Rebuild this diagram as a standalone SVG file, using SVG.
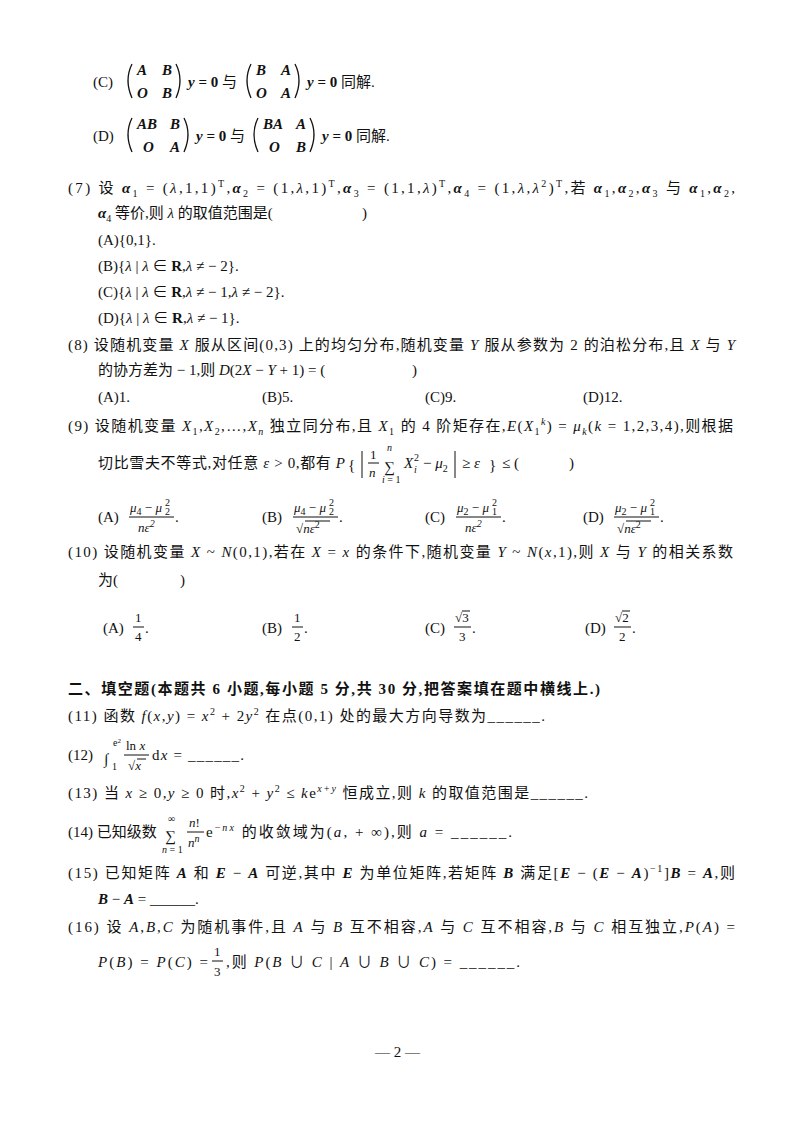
<svg xmlns="http://www.w3.org/2000/svg" width="800" height="1136" viewBox="0 0 800 1136">
<style>
text{font-family:"Liberation Serif","Noto Sans CJK SC",serif;font-size:15px;fill:#111}
.b{font-weight:bold}.i{font-style:italic}.bi{font-weight:bold;font-style:italic}
.s{font-size:10px}.m{font-size:13px}
.br{fill:none;stroke:#111;stroke-width:1.3}
.fl{stroke:#111;stroke-width:1}
</style>
<rect width="800" height="1136" fill="#fff"/>
<!-- (C) -->
<text x="93" y="87">(C)</text>
<path class="br" d="M132 64 Q124 80 132 98"/><text x="137" y="75" class="bi">A</text><text x="162" y="75" class="bi">B</text>
<text x="137" y="98" class="bi">O</text><text x="162" y="98" class="bi">B</text><path class="br" d="M176 64 Q184 80 176 98"/>
<text x="188" y="87"><tspan class="bi">y</tspan><tspan class="b"> = 0</tspan> 与</text>
<path class="br" d="M251 64 Q243 80 251 98"/><text x="256" y="75" class="bi">B</text><text x="281" y="75" class="bi">A</text>
<text x="256" y="98" class="bi">O</text><text x="281" y="98" class="bi">A</text><path class="br" d="M295 64 Q303 80 295 98"/>
<text x="307" y="87"><tspan class="bi">y</tspan><tspan class="b"> = 0</tspan> 同解.</text>
<!-- (D) -->
<text x="93" y="141">(D)</text>
<path class="br" d="M132 118 Q124 134 132 152"/><text x="137" y="129" class="bi">AB</text><text x="170" y="129" class="bi">B</text>
<text x="143" y="152" class="bi">O</text><text x="170" y="152" class="bi">A</text><path class="br" d="M184 118 Q192 134 184 152"/>
<text x="196" y="141"><tspan class="bi">y</tspan><tspan class="b"> = 0</tspan> 与</text>
<path class="br" d="M258 118 Q250 134 258 152"/><text x="263" y="129" class="bi">BA</text><text x="296" y="129" class="bi">A</text>
<text x="269" y="152" class="bi">O</text><text x="296" y="152" class="bi">B</text><path class="br" d="M310 118 Q318 134 310 152"/>
<text x="322" y="141"><tspan class="bi">y</tspan><tspan class="b"> = 0</tspan> 同解.</text>
<!-- (7) -->
<text x="68" y="193" textLength="667" lengthAdjust="spacing">(7) 设 <tspan class="bi">α</tspan><tspan class="s" dy="4">1</tspan><tspan dy="-4"> = (</tspan><tspan class="i">λ</tspan>,1,1)<tspan class="s" dy="-6">T</tspan><tspan dy="6">,</tspan><tspan class="bi">α</tspan><tspan class="s" dy="4">2</tspan><tspan dy="-4"> = (1,</tspan><tspan class="i">λ</tspan>,1)<tspan class="s" dy="-6">T</tspan><tspan dy="6">,</tspan><tspan class="bi">α</tspan><tspan class="s" dy="4">3</tspan><tspan dy="-4"> = (1,1,</tspan><tspan class="i">λ</tspan>)<tspan class="s" dy="-6">T</tspan><tspan dy="6">,</tspan><tspan class="bi">α</tspan><tspan class="s" dy="4">4</tspan><tspan dy="-4"> = (1,</tspan><tspan class="i">λ</tspan>,<tspan class="i">λ</tspan><tspan class="s" dy="-6">2</tspan><tspan dy="6">)</tspan><tspan class="s" dy="-6">T</tspan><tspan dy="6">,若 </tspan><tspan class="bi">α</tspan><tspan class="s" dy="4">1</tspan><tspan dy="-4">,</tspan><tspan class="bi">α</tspan><tspan class="s" dy="4">2</tspan><tspan dy="-4">,</tspan><tspan class="bi">α</tspan><tspan class="s" dy="4">3</tspan><tspan dy="-4"> 与 </tspan><tspan class="bi">α</tspan><tspan class="s" dy="4">1</tspan><tspan dy="-4">,</tspan><tspan class="bi">α</tspan><tspan class="s" dy="4">2</tspan><tspan dy="-4">,</tspan></text>
<text x="98" y="218"><tspan class="bi">α</tspan><tspan class="s" dy="4">4</tspan><tspan dy="-4"> 等价,则 </tspan><tspan class="i">λ</tspan> 的取值范围是(</text><text x="362" y="218">)</text>
<text x="98" y="245">(A){0,1}.</text>
<text x="98" y="271">(B){<tspan class="i">λ</tspan> | <tspan class="i">λ</tspan> ∈ <tspan class="b">R</tspan>,<tspan class="i">λ</tspan> ≠ − 2}.</text>
<text x="98" y="297">(C){<tspan class="i">λ</tspan> | <tspan class="i">λ</tspan> ∈ <tspan class="b">R</tspan>,<tspan class="i">λ</tspan> ≠ − 1,<tspan class="i">λ</tspan> ≠ − 2}.</text>
<text x="98" y="323">(D){<tspan class="i">λ</tspan> | <tspan class="i">λ</tspan> ∈ <tspan class="b">R</tspan>,<tspan class="i">λ</tspan> ≠ − 1}.</text>
<!-- (8) -->
<text x="68" y="350" textLength="667" lengthAdjust="spacing">(8) 设随机变量 <tspan class="i">X</tspan> 服从区间(0,3) 上的均匀分布,随机变量 <tspan class="i">Y</tspan> 服从参数为 2 的泊松分布,且 <tspan class="i">X</tspan> 与 <tspan class="i">Y</tspan></text>
<text x="98" y="375">的协方差为 − 1,则 <tspan class="i">D</tspan>(2<tspan class="i">X</tspan> − <tspan class="i">Y</tspan> + 1) = (</text><text x="412" y="375">)</text>
<text x="98" y="402">(A)1.</text><text x="262" y="402">(B)5.</text><text x="425" y="402">(C)9.</text><text x="583" y="402">(D)12.</text>
<!-- (9) -->
<text x="68" y="431" textLength="665" lengthAdjust="spacing">(9) 设随机变量 <tspan class="i">X</tspan><tspan class="s" dy="4">1</tspan><tspan dy="-4">,</tspan><tspan class="i">X</tspan><tspan class="s" dy="4">2</tspan><tspan dy="-4">,…,</tspan><tspan class="i">X</tspan><tspan class="s i" dy="4">n</tspan><tspan dy="-4"> 独立同分布,且 </tspan><tspan class="i">X</tspan><tspan class="s" dy="4">1</tspan><tspan dy="-4"> 的 4 阶矩存在,</tspan><tspan class="i">E</tspan>(<tspan class="i">X</tspan><tspan class="s" dy="4">1</tspan><tspan class="s i" dy="-10">k</tspan><tspan dy="6">) = </tspan><tspan class="i">μ</tspan><tspan class="s i" dy="4">k</tspan><tspan dy="-4">(</tspan><tspan class="i">k</tspan> = 1,2,3,4),则根据</text>
<text x="98" y="468" textLength="247" lengthAdjust="spacing">切比雪夫不等式,对任意 <tspan class="i">ε</tspan> &gt; 0,都有 <tspan class="i">P</tspan></text>
<text x="348" y="470" font-size="22">{</text>
<line class="fl" x1="362" y1="451" x2="362" y2="478"/>
<text x="370" y="459" class="m">1</text><line class="fl" x1="368" y1="463" x2="379" y2="463"/><text x="369" y="477" class="m i">n</text>
<text x="384" y="472" font-size="20">∑</text><text x="387" y="451" class="s i">n</text><text x="382" y="483" class="s"><tspan class="i">i</tspan> = 1</text>
<text x="404" y="468" class="i">X</text><text x="414" y="461" class="s">2</text><text x="414" y="473" class="s i">i</text>
<text x="423" y="468">− <tspan class="i">μ</tspan><tspan class="s" dy="4">2</tspan></text>
<line class="fl" x1="455" y1="451" x2="455" y2="478"/>
<text x="462" y="468">≥ <tspan class="i">ε</tspan></text>
<text x="489" y="470" font-size="22">}</text>
<text x="502" y="468">≤ (</text><text x="569" y="468">)</text>
<!-- options 9 -->
<g id="opt9">
<text x="98" y="522">(A)</text>
<text x="130" y="512" class="m"><tspan class="i">μ</tspan><tspan class="s" dy="3">4</tspan><tspan dy="-3"> − </tspan><tspan class="i">μ</tspan></text><text x="165" y="506" class="s">2</text><text x="165" y="515" class="s">2</text>
<line class="fl" x1="129" y1="517" x2="174" y2="517"/><text x="138" y="532" class="m i">nε<tspan class="s" dy="-5">2</tspan></text><text x="175" y="522">.</text>
<text x="262" y="522">(B)</text>
<text x="294" y="512" class="m"><tspan class="i">μ</tspan><tspan class="s" dy="3">4</tspan><tspan dy="-3"> − </tspan><tspan class="i">μ</tspan></text><text x="329" y="506" class="s">2</text><text x="329" y="515" class="s">2</text>
<line class="fl" x1="293" y1="517" x2="338" y2="517"/><text x="296" y="533" class="m">√<tspan class="i">nε</tspan><tspan class="s" dy="-5">2</tspan></text><line class="fl" x1="305" y1="521" x2="330" y2="521"/><text x="339" y="522">.</text>
<text x="425" y="522">(C)</text>
<text x="457" y="512" class="m"><tspan class="i">μ</tspan><tspan class="s" dy="3">2</tspan><tspan dy="-3"> − </tspan><tspan class="i">μ</tspan></text><text x="492" y="506" class="s">2</text><text x="492" y="515" class="s">1</text>
<line class="fl" x1="456" y1="517" x2="501" y2="517"/><text x="465" y="532" class="m i">nε<tspan class="s" dy="-5">2</tspan></text><text x="502" y="522">.</text>
<text x="583" y="522">(D)</text>
<text x="615" y="512" class="m"><tspan class="i">μ</tspan><tspan class="s" dy="3">2</tspan><tspan dy="-3"> − </tspan><tspan class="i">μ</tspan></text><text x="650" y="506" class="s">2</text><text x="650" y="515" class="s">1</text>
<line class="fl" x1="614" y1="517" x2="659" y2="517"/><text x="617" y="533" class="m">√<tspan class="i">nε</tspan><tspan class="s" dy="-5">2</tspan></text><line class="fl" x1="626" y1="521" x2="651" y2="521"/><text x="660" y="522">.</text>
</g>
<!-- (10) -->
<text x="68" y="557" textLength="665" lengthAdjust="spacing">(10) 设随机变量 <tspan class="i">X</tspan> ~ <tspan class="i">N</tspan>(0,1),若在 <tspan class="i">X</tspan> = <tspan class="i">x</tspan> 的条件下,随机变量 <tspan class="i">Y</tspan> ~ <tspan class="i">N</tspan>(<tspan class="i">x</tspan>,1),则 <tspan class="i">X</tspan> 与 <tspan class="i">Y</tspan> 的相关系数</text>
<text x="98" y="585">为(</text><text x="180" y="585">)</text>
<text x="103" y="633">(A)</text><text x="135" y="622" class="m">1</text><line class="fl" x1="133" y1="627" x2="144" y2="627"/><text x="135" y="641" class="m">4</text><text x="145" y="633">.</text>
<text x="262" y="633">(B)</text><text x="294" y="622" class="m">1</text><line class="fl" x1="292" y1="627" x2="303" y2="627"/><text x="294" y="641" class="m">2</text><text x="304" y="633">.</text>
<text x="425" y="633">(C)</text><text x="455" y="622" class="m">√3</text><line class="fl" x1="462" y1="611" x2="470" y2="611"/><line class="fl" x1="454" y1="627" x2="471" y2="627"/><text x="459" y="641" class="m">3</text><text x="472" y="633">.</text>
<text x="585" y="633">(D)</text><text x="615" y="622" class="m">√2</text><line class="fl" x1="622" y1="611" x2="630" y2="611"/><line class="fl" x1="614" y1="627" x2="631" y2="627"/><text x="619" y="641" class="m">2</text><text x="632" y="633">.</text>
<!-- fill-in -->
<text x="68" y="694" class="b" textLength="532" lengthAdjust="spacing">二、填空题(本题共 6 小题,每小题 5 分,共 30 分,把答案填在题中横线上.)</text>
<text x="68" y="721" textLength="477" lengthAdjust="spacing">(11) 函数 <tspan class="i">f</tspan>(<tspan class="i">x</tspan>,<tspan class="i">y</tspan>) = <tspan class="i">x</tspan><tspan class="s" dy="-6">2</tspan><tspan dy="6"> + 2</tspan><tspan class="i">y</tspan><tspan class="s" dy="-6">2</tspan><tspan dy="6"> 在点(0,1) 处的最大方向导数为______.</tspan></text>
<text x="68" y="760">(12)</text><text x="104" y="764" font-size="22">∫</text><text x="113" y="746" class="s">e<tspan dy="-3" font-size="7">2</tspan></text><text x="112" y="770" class="s">1</text>
<text x="126" y="750" class="m">ln <tspan class="i">x</tspan></text><line class="fl" x1="124" y1="755" x2="149" y2="755"/><text x="128" y="770" class="m">√<tspan class="i">x</tspan></text><line class="fl" x1="137" y1="759" x2="146" y2="759"/>
<text x="152" y="760" textLength="92" lengthAdjust="spacing">d<tspan class="i">x</tspan> = ______.</text>
<text x="68" y="798" textLength="520" lengthAdjust="spacing">(13) 当 <tspan class="i">x</tspan> ≥ 0,<tspan class="i">y</tspan> ≥ 0 时,<tspan class="i">x</tspan><tspan class="s" dy="-6">2</tspan><tspan dy="6"> + </tspan><tspan class="i">y</tspan><tspan class="s" dy="-6">2</tspan><tspan dy="6"> ≤ </tspan><tspan class="i">k</tspan>e<tspan class="s i" dy="-6">x+y</tspan><tspan dy="6"> 恒成立,则 </tspan><tspan class="i">k</tspan> 的取值范围是______.</text>
<text x="68" y="837">(14) 已知级数</text><text x="165" y="841" font-size="20">∑</text><text x="168" y="822" class="s">∞</text><text x="162" y="853" class="s"><tspan class="i">n</tspan> = 1</text>
<text x="189" y="827" class="m"><tspan class="i">n</tspan>!</text><line class="fl" x1="187" y1="832" x2="204" y2="832"/><text x="188" y="847" class="m i">n<tspan class="s" dy="-5">n</tspan></text>
<text x="206" y="837" textLength="306" lengthAdjust="spacing">e<tspan class="s" dy="-6">−<tspan class="i">nx</tspan></tspan><tspan dy="6"> 的收敛域为(</tspan><tspan class="i">a</tspan>, + ∞),则 <tspan class="i">a</tspan> = ______.</text>
<text x="68" y="878" textLength="667" lengthAdjust="spacing">(15) 已知矩阵 <tspan class="bi">A</tspan> 和 <tspan class="bi">E</tspan> − <tspan class="bi">A</tspan> 可逆,其中 <tspan class="bi">E</tspan> 为单位矩阵,若矩阵 <tspan class="bi">B</tspan> 满足[<tspan class="bi">E</tspan> − (<tspan class="bi">E</tspan> − <tspan class="bi">A</tspan>)<tspan class="s" dy="-6">−1</tspan><tspan dy="6">]</tspan><tspan class="bi">B</tspan> = <tspan class="bi">A</tspan>,则</text>
<text x="98" y="904"><tspan class="bi">B</tspan> − <tspan class="bi">A</tspan> = ______.</text>
<text x="68" y="932" textLength="667" lengthAdjust="spacing">(16) 设 <tspan class="i">A</tspan>,<tspan class="i">B</tspan>,<tspan class="i">C</tspan> 为随机事件,且 <tspan class="i">A</tspan> 与 <tspan class="i">B</tspan> 互不相容,<tspan class="i">A</tspan> 与 <tspan class="i">C</tspan> 互不相容,<tspan class="i">B</tspan> 与 <tspan class="i">C</tspan> 相互独立,<tspan class="i">P</tspan>(<tspan class="i">A</tspan>) =</text>
<text x="98" y="967" textLength="110" lengthAdjust="spacing"><tspan class="i">P</tspan>(<tspan class="i">B</tspan>) = <tspan class="i">P</tspan>(<tspan class="i">C</tspan>) =</text>
<text x="214" y="956" class="m">1</text><line class="fl" x1="212" y1="961" x2="223" y2="961"/><text x="214" y="976" class="m">3</text>
<text x="226" y="967" textLength="294" lengthAdjust="spacing">,则 <tspan class="i">P</tspan>(<tspan class="i">B</tspan> ∪ <tspan class="i">C</tspan> | <tspan class="i">A</tspan> ∪ <tspan class="i">B</tspan> ∪ <tspan class="i">C</tspan>) = ______.</text>
<text x="375" y="1057" font-size="16">— 2 —</text>
</svg>
